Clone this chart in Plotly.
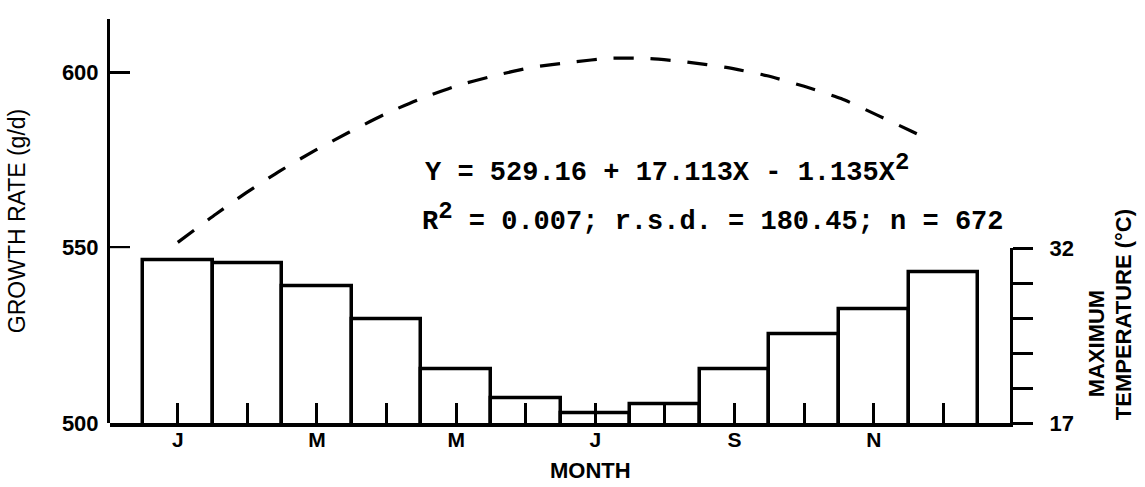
import plotly.graph_objects as go

# ---- data ----
months = list(range(1, 13))
month_tick_text = ["J", "", "M", "", "M", "", "J", "", "S", "", "N", ""]
max_temp = [31.0, 30.7, 28.7, 25.9, 21.6, 19.1, 17.8, 18.6, 21.6, 24.6, 26.8, 29.9]

curve_month = [1.0, 1.55, 1.98, 2.47, 2.96, 3.46, 3.99, 4.46, 5.0, 5.54, 6.09, 6.66,
               7.22, 7.78, 8.32, 8.88, 9.47, 10.0, 10.53, 11.05, 11.55, 11.69]
curve_growth = [551.5, 559.6, 565.6, 571.9, 577.6, 582.9, 588.2, 592.2, 596.1, 599.0, 601.4, 602.9,
                604.0, 603.9, 602.9, 601.4, 599.0, 596.0, 592.5, 587.8, 583.1, 581.8]

growth_ticks = [500, 550, 600]
temp_ticks = [17, 20, 23, 26, 29, 32]
temp_tick_text = ["17", "", "", "", "", "32"]

SUP2 = '<sup><span style="font-size:24px">2</span></sup>'
eq_line1 = "Y = 529.16 + 17.113X - 1.135X" + SUP2
eq_line2 = "R" + SUP2 + " = 0.007; r.s.d. = 180.45; n = 672"

SANS = "Liberation Sans"
MONO = "Liberation Mono"
XRANGE = [0.026, 12.957]

fig = go.Figure()

fig.add_trace(go.Scatter(
    x=curve_month, y=curve_growth, mode="lines", xaxis="x", yaxis="y",
    line=dict(color="black", width=3.2, dash="20px,17px", shape="spline", smoothing=0.6),
    showlegend=False, hoverinfo="skip",
))

fig.add_trace(go.Bar(
    x=months, y=max_temp, xaxis="x2", yaxis="y2", width=1.0,
    marker=dict(color="white", line=dict(color="black", width=3.5)),
    showlegend=False, hoverinfo="skip",
))

fig.update_layout(
    width=1145, height=487,
    margin=dict(l=110, r=135, t=7, b=64),
    paper_bgcolor="white", plot_bgcolor="white",
    bargap=0,
    xaxis=dict(
        range=XRANGE, showticklabels=False, ticks="",
        showline=False, showgrid=False, zeroline=False,
    ),
    xaxis2=dict(
        range=XRANGE, anchor="y2", domain=[0, 1],
        tickmode="array", tickvals=months, ticktext=month_tick_text,
        ticks="inside", ticklen=20, tickwidth=2.5, tickcolor="black",
        showline=True, linecolor="black", linewidth=4, showgrid=False, zeroline=False,
        tickfont=dict(family=SANS, size=21, color="black", weight="bold"),
        ticklabelstandoff=-5, layer="above traces",
    ),
    yaxis=dict(
        range=[500, 615.2], tickmode="array", tickvals=growth_ticks,
        ticks="inside", ticklen=20, tickwidth=3, tickcolor="black",
        showline=True, linecolor="black", linewidth=3, showgrid=False, zeroline=False,
        tickfont=dict(family=SANS, size=22, color="black", weight="bold"),
        ticklabelstandoff=4,
        title=dict(text="GROWTH RATE (g/d)", font=dict(family=SANS, size=23, color="black"), standoff=30),
    ),
    yaxis2=dict(
        domain=[0, 180 / 416], range=[17, 32], anchor="x2", side="right",
        tickmode="array", tickvals=temp_ticks, ticktext=temp_tick_text,
        ticks="outside", ticklen=20, tickwidth=3, tickcolor="black",
        showline=True, linecolor="black", linewidth=3, showgrid=False, zeroline=False,
        tickfont=dict(family=SANS, size=22, color="black", weight="bold"),
        ticklabelstandoff=12,
    ),
)

fig.add_annotation(xref="paper", yref="paper", x=(423 - 110) / 900, y=(423 - 161) / 416,
                   xanchor="left", yanchor="middle", showarrow=False, text="<b>" + eq_line1 + "</b>",
                   font=dict(family=MONO, size=27, color="black"))
fig.add_annotation(xref="paper", yref="paper", x=(420 - 110) / 900, y=(423 - 211) / 416,
                   xanchor="left", yanchor="middle", showarrow=False, text="<b>" + eq_line2 + "</b>",
                   font=dict(family=MONO, size=27, color="black"))

fig.add_annotation(xref="paper", yref="paper", x=(590 - 110) / 900, y=(423 - 472) / 416,
                   xanchor="center", yanchor="middle", showarrow=False, text="<b>MONTH</b>",
                   font=dict(family=SANS, size=22, color="black"))

fig.add_annotation(xref="paper", yref="paper", x=(1096 - 110) / 900, y=(423 - 341) / 416,
                   xanchor="center", yanchor="middle", showarrow=False, textangle=-90,
                   text="<b>MAXIMUM</b>", font=dict(family=SANS, size=22, color="black"))
fig.add_annotation(xref="paper", yref="paper", x=(1123 - 110) / 900, y=(423 - 312) / 416,
                   xanchor="center", yanchor="middle", showarrow=False, textangle=-90,
                   text="<b>TEMPERATURE (°C)</b>", font=dict(family=SANS, size=22, color="black"))

fig.write_html("out.html")
